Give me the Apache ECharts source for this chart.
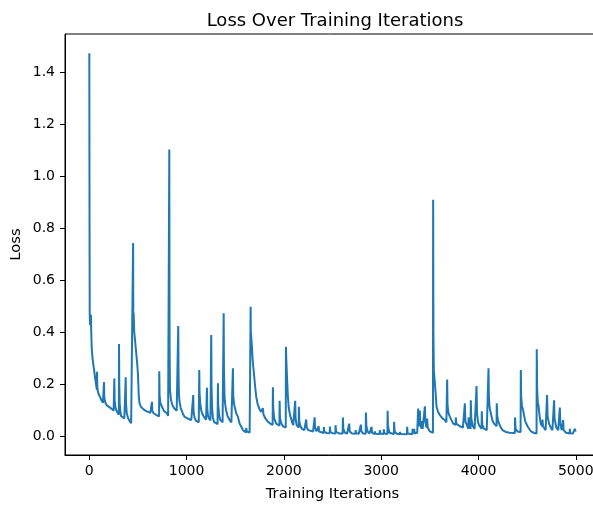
<!DOCTYPE html>
<html>
<head>
<meta charset="utf-8">
<script src="https://cdn.jsdelivr.net/npm/echarts@6/dist/echarts.min.js"></script>
<style>
html,body{margin:0;padding:0;background:#fff;}
#chart{width:593px;height:506px;}
</style>
</head>
<body>
<div id="chart"></div>
<script>
const iterations = [0,2,4,8,12,16,20,25,31,40,48,58,66,74,78,79,82,90,100,113,125,140,150,151,154,165,180,200,220,236,250,256,257,260,270,285,300,304,305,308,312,318,326,340,360,372,374,377,385,400,415,430,440,448,450,452,456,462,470,480,490,500,508,515,530,545,560,575,590,610,627,640,644,647,660,680,696,710,717,719,722,730,747,765,780,798,810,818,822,825,829,840,855,870,885,898,905,912,914,917,921,929,940,955,965,980,1000,1020,1048,1060,1066,1068,1071,1080,1095,1110,1125,1128,1130,1133,1140,1151,1165,1180,1186,1200,1207,1209,1212,1220,1230,1245,1251,1253,1256,1262,1270,1281,1300,1318,1322,1325,1335,1345,1353,1370,1378,1381,1384,1390,1398,1407,1420,1442,1460,1473,1476,1479,1486,1494,1510,1528,1545,1562,1580,1596,1610,1613,1618,1635,1648,1655,1658,1660,1668,1680,1692,1705,1716,1730,1750,1766,1780,1784,1790,1810,1836,1860,1884,1887,1890,1900,1921,1940,1954,1956,1960,1975,1990,2010,2019,2021,2024,2031,2040,2050,2060,2069,2085,2096,2114,2116,2120,2130,2137,2152,2154,2158,2170,2185,2210,2227,2229,2235,2250,2267,2300,2314,2316,2320,2335,2355,2357,2362,2380,2409,2411,2416,2440,2471,2473,2478,2500,2529,2531,2537,2570,2604,2606,2611,2625,2650,2669,2671,2677,2700,2735,2737,2742,2770,2789,2791,2796,2815,2841,2843,2848,2860,2880,2899,2901,2906,2933,2935,2940,2984,2986,2990,3025,3027,3032,3064,3066,3070,3085,3131,3133,3138,3160,3190,3192,3200,3265,3267,3272,3320,3322,3328,3337,3339,3345,3370,3378,3380,3385,3395,3397,3402,3415,3421,3426,3445,3449,3454,3465,3472,3478,3500,3520,3532,3534,3537,3541,3555,3569,3585,3603,3630,3654,3670,3676,3678,3682,3692,3706,3740,3765,3767,3772,3808,3840,3858,3860,3865,3880,3896,3898,3903,3919,3921,3926,3942,3960,3978,3980,3985,3995,4006,4032,4034,4039,4058,4085,4101,4103,4107,4115,4127,4145,4161,4186,4188,4193,4202,4212,4230,4247,4280,4320,4374,4376,4381,4400,4433,4435,4439,4447,4459,4480,4504,4540,4572,4597,4599,4603,4610,4617,4628,4640,4656,4658,4663,4690,4703,4705,4710,4725,4743,4760,4775,4777,4782,4800,4820,4834,4836,4841,4855,4868,4870,4875,4900,4937,4939,4944,4970,4988,4990,4999];
const loss = [1.475,0.86,0.47,0.43,0.45,0.47,0.40,0.34,0.31,0.28,0.26,0.23,0.21,0.19,0.18,0.25,0.19,0.17,0.16,0.15,0.14,0.13,0.125,0.21,0.15,0.13,0.12,0.115,0.11,0.105,0.10,0.10,0.224,0.14,0.11,0.095,0.088,0.085,0.356,0.20,0.13,0.10,0.08,0.075,0.07,0.068,0.228,0.13,0.09,0.07,0.06,0.052,0.048,0.045,0.745,0.48,0.47,0.40,0.37,0.33,0.29,0.24,0.16,0.13,0.115,0.108,0.104,0.10,0.097,0.094,0.092,0.09,0.134,0.10,0.09,0.085,0.082,0.08,0.078,0.252,0.16,0.13,0.115,0.10,0.095,0.09,0.08,0.076,1.105,0.35,0.18,0.14,0.12,0.11,0.105,0.10,0.095,0.095,0.426,0.25,0.16,0.13,0.11,0.095,0.085,0.076,0.07,0.068,0.064,0.062,0.06,0.16,0.10,0.075,0.062,0.057,0.055,0.055,0.256,0.17,0.128,0.10,0.085,0.075,0.07,0.065,0.062,0.188,0.11,0.08,0.07,0.062,0.06,0.391,0.20,0.11,0.075,0.057,0.05,0.048,0.205,0.12,0.08,0.065,0.06,0.055,0.052,0.475,0.25,0.15,0.12,0.10,0.08,0.064,0.055,0.05,0.263,0.16,0.13,0.115,0.09,0.076,0.05,0.038,0.025,0.018,0.016,0.034,0.02,0.017,0.016,0.016,0.50,0.40,0.365,0.29,0.243,0.19,0.153,0.125,0.105,0.095,0.09,0.11,0.085,0.07,0.057,0.05,0.045,0.19,0.11,0.07,0.05,0.045,0.042,0.138,0.07,0.05,0.04,0.036,0.035,0.346,0.30,0.237,0.16,0.11,0.09,0.076,0.055,0.044,0.04,0.138,0.07,0.045,0.038,0.035,0.115,0.06,0.04,0.03,0.025,0.024,0.066,0.035,0.025,0.022,0.02,0.018,0.074,0.035,0.02,0.016,0.04,0.02,0.016,0.014,0.037,0.018,0.014,0.013,0.039,0.018,0.013,0.012,0.044,0.018,0.012,0.012,0.074,0.03,0.016,0.012,0.012,0.05,0.02,0.012,0.011,0.025,0.013,0.011,0.011,0.046,0.02,0.012,0.011,0.093,0.04,0.02,0.012,0.011,0.038,0.015,0.01,0.02,0.011,0.01,0.025,0.012,0.01,0.028,0.012,0.01,0.10,0.04,0.015,0.01,0.057,0.02,0.011,0.009,0.018,0.01,0.009,0.038,0.012,0.009,0.03,0.012,0.01,0.03,0.012,0.015,0.02,0.108,0.05,0.04,0.10,0.05,0.03,0.06,0.03,0.025,0.117,0.06,0.035,0.07,0.035,0.02,0.015,0.015,0.911,0.40,0.256,0.19,0.115,0.095,0.083,0.07,0.064,0.055,0.05,0.22,0.12,0.09,0.076,0.05,0.045,0.074,0.05,0.04,0.035,0.035,0.128,0.06,0.045,0.03,0.074,0.04,0.03,0.14,0.07,0.04,0.03,0.025,0.195,0.09,0.055,0.044,0.03,0.098,0.045,0.03,0.025,0.022,0.263,0.15,0.11,0.09,0.06,0.05,0.04,0.128,0.08,0.06,0.05,0.035,0.025,0.018,0.015,0.014,0.074,0.03,0.02,0.018,0.256,0.15,0.12,0.10,0.06,0.04,0.02,0.014,0.012,0.336,0.18,0.13,0.12,0.08,0.05,0.04,0.066,0.04,0.025,0.02,0.16,0.08,0.05,0.035,0.025,0.02,0.14,0.07,0.035,0.025,0.02,0.112,0.05,0.025,0.018,0.064,0.025,0.015,0.012,0.03,0.013,0.012,0.013,0.03,0.02];
const xTicks = [0,1000,2000,3000,4000,5000];
const yTicks = [0.0,0.2,0.4,0.6,0.8,1.0,1.2,1.4];

const seriesData = iterations.map((it, i) => [it, loss[i]]);
const FONT = 'DejaVu Sans';
const chart = echarts.init(document.getElementById('chart'), null, {renderer: 'canvas'});
chart.setOption({
  animation: false,
  backgroundColor: '#fff',
  title: {
    text: 'Loss Over Training Iterations',
    left: 330, top: 7, textAlign: 'center',
    textStyle: {fontFamily: FONT, fontSize: 18, fontWeight: 'normal', color: '#000'}
  },
  grid: {left: 65, top: 34, width: 535, height: 421, show: true, borderColor: '#000', borderWidth: 1,
         backgroundColor: 'transparent', containLabel: false, outerBoundsMode: 'none'},
  xAxis: {
    type: 'value', min: -250, max: 5249,
    name: 'Training Iterations', nameLocation: 'middle', nameGap: 32, nameMoveOverlap: false,
    nameTextStyle: {fontFamily: FONT, fontSize: 14.8, color: '#000'},
    axisLine: {show: true, onZero: false, lineStyle: {color: '#000', width: 1}},
    axisTick: {show: true, inside: false, length: 5, customValues: xTicks, lineStyle: {color: '#000', width: 1}},
    axisLabel: {customValues: xTicks, margin: 9, fontFamily: FONT, fontSize: 14, color: '#000', formatter: v => String(v)},
    splitLine: {show: false}
  },
  yAxis: {
    type: 'value', min: -0.0706, max: 1.549,
    name: 'Loss', nameLocation: 'middle', nameGap: 41, nameRotate: 90, nameMoveOverlap: false,
    nameTextStyle: {fontFamily: FONT, fontSize: 14.8, color: '#000'},
    axisLine: {show: true, onZero: false, lineStyle: {color: '#000', width: 1}},
    axisTick: {show: true, inside: false, length: 5, customValues: yTicks, lineStyle: {color: '#000', width: 1}},
    axisLabel: {customValues: yTicks, margin: 10, fontFamily: FONT, fontSize: 14, color: '#000', formatter: v => v.toFixed(1)},
    splitLine: {show: false}
  },
  series: [{
    type: 'line', data: seriesData, showSymbol: false, symbol: 'none',
    lineStyle: {color: '#1f77b4', width: 2},
    itemStyle: {color: '#1f77b4'},
    sampling: null, clip: true
  }]
});
</script>
</body>
</html>
